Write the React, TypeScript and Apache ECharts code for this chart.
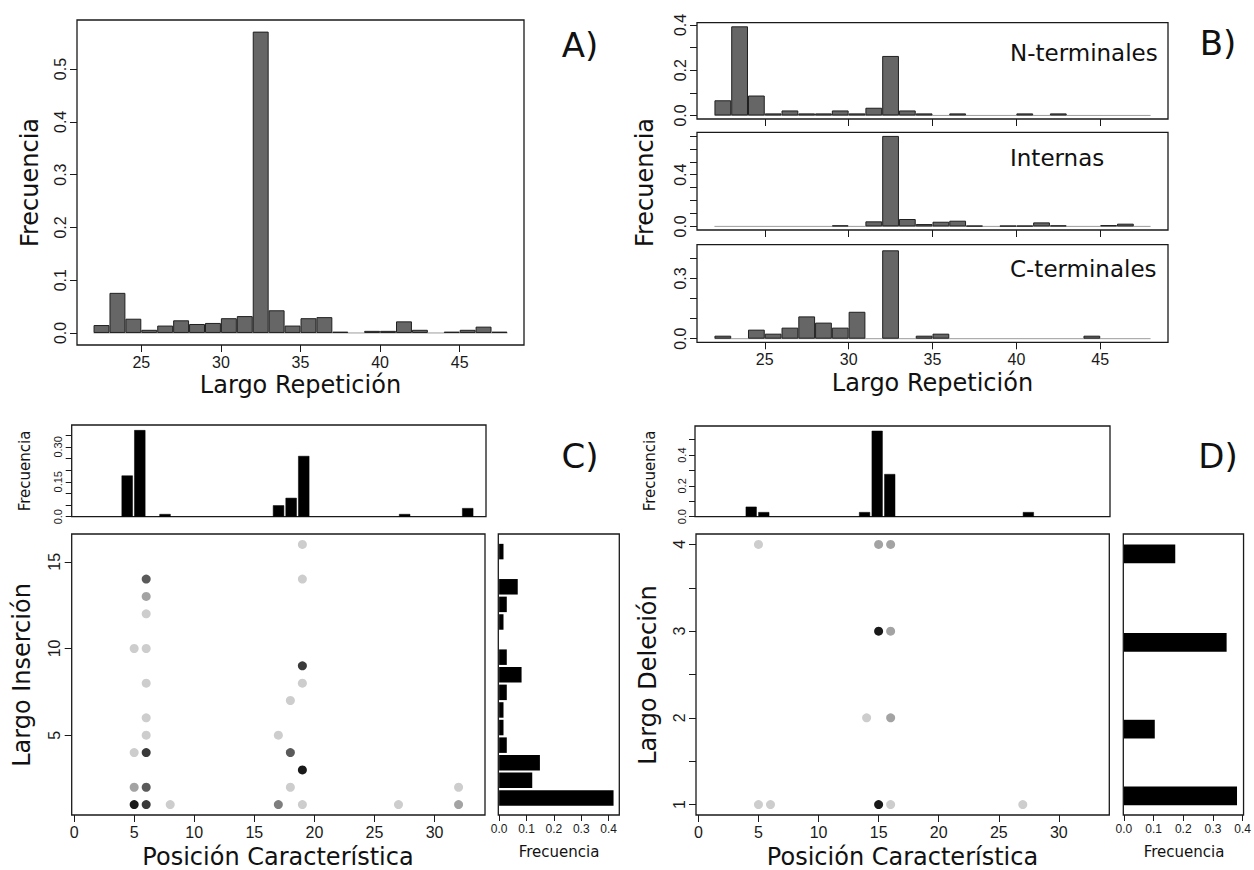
import React, { useEffect, useRef } from 'react';
import * as echarts from 'echarts';

// ---------------- DATA ----------------
// Panel A / B: histogram of repeat length (bin edges 22..48, width 1)
const repBinEdges = [22, 23, 24, 25, 26, 27, 28, 29, 30, 31, 32, 33, 34, 35, 36, 37, 38, 39, 40, 41, 42, 43, 44, 45, 46, 47, 48];
const freqAll = [0.015, 0.076, 0.027, 0.006, 0.014, 0.024, 0.017, 0.019, 0.028, 0.032, 0.571, 0.043, 0.014, 0.028, 0.030, 0.0025, 0, 0.004, 0.004, 0.022, 0.006, 0, 0.0025, 0.006, 0.012, 0.0025];
const freqNterm = [0.067, 0.394, 0.088, 0.009, 0.022, 0.009, 0.009, 0.022, 0.009, 0.034, 0.263, 0.022, 0.009, 0, 0.009, 0, 0, 0, 0.009, 0, 0.009, 0, 0, 0, 0, 0];
const freqIntern = [0, 0, 0, 0, 0, 0, 0, 0.008, 0, 0.039, 0.70, 0.057, 0.018, 0.036, 0.044, 0.005, 0, 0.005, 0.005, 0.031, 0.008, 0, 0, 0.01, 0.021, 0];
const freqCterm = [0.015, 0, 0.045, 0.025, 0.055, 0.111, 0.080, 0.055, 0.134, 0, 0.44, 0, 0.015, 0.025, 0, 0, 0, 0, 0, 0, 0, 0, 0.015, 0, 0, 0];

const repTicks = [25, 30, 35, 40, 45];
const ticksA = [0, 0.1, 0.2, 0.3, 0.4, 0.5];
const ticksN = [0, 0.1, 0.2, 0.3, 0.4];
const labelsN = [0, 0.2, 0.4];
const ticksInt = [0, 0.1, 0.2, 0.3, 0.4, 0.5, 0.6, 0.7];
const labelsInt = [0, 0.4];
const ticksC = [0, 0.1, 0.2, 0.3, 0.4];
const labelsC = [0, 0.3];

// Panel C: insertions
const insPos = [5, 6, 8, 17, 18, 19, 27, 32];
const insPosFreq = [0.177, 0.372, 0.0115, 0.049, 0.081, 0.261, 0.0115, 0.037];
const insLenBars = [1, 2, 3, 4, 5, 6, 7, 8, 9, 10, 11, 12, 13, 14, 15];
const insLenFreq = [0.418, 0.121, 0.149, 0.028, 0.016, 0.016, 0.028, 0.082, 0.028, 0, 0.016, 0.028, 0.068, 0, 0.016];
const insX = [19, 6, 19, 6, 6, 5, 6, 19, 6, 19, 18, 6, 6, 17, 5, 6, 18, 19, 5, 6, 18, 32, 5, 6, 8, 17, 19, 27, 32];
const insY = [16, 14, 14, 13, 12, 10, 10, 9, 8, 8, 7, 6, 5, 5, 4, 4, 4, 3, 2, 2, 2, 2, 1, 1, 1, 1, 1, 1, 1];
const insShade = [1, 4, 1, 2, 1, 1, 1, 5, 1, 1, 1, 1, 1, 1, 1, 5, 4, 6, 2, 4, 1, 1, 6, 5, 1, 3, 1, 1, 2];
const insTopTicks = [0, 0.05, 0.1, 0.15, 0.2, 0.25, 0.3, 0.35];
const insTopLabelVals = [0, 0.15, 0.3];
const insTopLabelTxt = ['0.0', '0.15', '0.30'];

// Panel D: deletions
const delPos = [5, 6, 14, 15, 16, 27];
const delPosFreq = [0.065, 0.03, 0.03, 0.558, 0.277, 0.03];
const delLenBarPos = [1.1, 1.87, 2.87, 3.89];
const delLenFreq = [0.381, 0.104, 0.346, 0.173];
const delX = [5, 15, 16, 15, 16, 14, 16, 5, 6, 15, 16, 27];
const delY = [4, 4, 4, 3, 3, 2, 2, 1, 1, 1, 1, 1];
const delShade = [1, 2, 2, 6, 2, 1, 2, 1, 1, 6, 1, 1];
const delTopTicks = [0, 0.1, 0.2, 0.3, 0.4, 0.5];
const delTopLabels = [0, 0.2, 0.4];

const posTicks = [0, 5, 10, 15, 20, 25, 30];
const insLenTicks = [5, 10, 15];
const delLenTicks = [1, 1.5, 2, 2.5, 3, 3.5, 4];
const delLenLabels = [1, 2, 3, 4];
const histFreqTicks = [0, 0.1, 0.2, 0.3, 0.4];

const shadeColors = ['#cdcdcd', '#a3a3a3', '#7e7e7e', '#5a5a5a', '#3a3a3a', '#191919'];

// ---------------- STYLE ----------------
const INK = '#1a1a1a';
const FONT_T = 'DejaVu Sans';
const FONT_L = 'Liberation Sans';

type AxOpt = {
  ticks?: number[];
  labels?: number[];
  fmt?: (v: number) => string;
  fontSize?: number;
  margin?: number;
  rotate?: number;
  tickLen?: number;
};

function vAxis(gridIndex: number, min: number, max: number, o: AxOpt = {}) {
  const ticks = o.ticks || [];
  const labels = o.labels || [];
  const ax: any = {
    type: 'value',
    gridIndex,
    min,
    max,
    axisLine: { show: false, onZero: false },
    splitLine: { show: false },
    axisTick: { show: false },
    axisLabel: { show: false },
  };
  if (ticks.length) {
    ax.axisTick = { show: true, length: o.tickLen ?? 7, customValues: ticks, lineStyle: { color: INK, width: 1 } };
  }
  if (labels.length) {
    ax.axisLabel = {
      show: true,
      customValues: labels,
      formatter: o.fmt || ((v: number) => String(v)),
      fontSize: o.fontSize ?? 16,
      fontFamily: FONT_L,
      color: INK,
      margin: o.margin ?? 9,
      rotate: o.rotate ?? 0,
    };
  }
  return ax;
}

const gridBox = { show: true, borderColor: INK, borderWidth: 1.3, backgroundColor: 'transparent', containLabel: false };

const grids = [
  { left: 77, top: 20, width: 447, height: 325 }, // 0 A
  { left: 697, top: 22.7, width: 471, height: 96.3 }, // 1 B N
  { left: 697, top: 132.3, width: 471, height: 97.7 }, // 2 B Int
  { left: 697, top: 244.7, width: 471, height: 97.6 }, // 3 B C
  { left: 71.7, top: 425, width: 414.3, height: 91.7 }, // 4 C top
  { left: 71.7, top: 534, width: 413.3, height: 281 }, // 5 C scatter
  { left: 498.3, top: 534, width: 121, height: 281 }, // 6 C right
  { left: 695, top: 426, width: 415, height: 90.7 }, // 7 D top
  { left: 696, top: 534, width: 413.3, height: 281 }, // 8 D scatter
  { left: 1123.3, top: 534, width: 121.7, height: 281 }, // 9 D right
].map((g) => ({ ...gridBox, ...g }));

const repMin = 20.96;
const repMax = 49.04;
const f1 = (v: number) => v.toFixed(1);

function histSeries(gi: number, freqs: number[]) {
  const pxPerUnit = grids[gi].width / (repMax - repMin);
  const data = freqs
    .map((f, i) => [(repBinEdges[i] + repBinEdges[i + 1]) / 2, f])
    .filter((d) => d[1] > 0);
  return [
    {
      type: 'line',
      xAxisIndex: gi,
      yAxisIndex: gi,
      data: [
        [repBinEdges[0], 0],
        [repBinEdges[repBinEdges.length - 1], 0],
      ],
      symbol: 'none',
      silent: true,
      lineStyle: { color: '#9c9c9c', width: 1 },
      z: 1,
    },
    {
      type: 'bar',
      xAxisIndex: gi,
      yAxisIndex: gi,
      data,
      barWidth: pxPerUnit,
      itemStyle: { color: '#666666', borderColor: '#202020', borderWidth: 1 },
      z: 2,
    },
  ];
}

function topBars(gi: number, pos: number[], freqs: number[], w: number) {
  return {
    type: 'bar',
    xAxisIndex: gi,
    yAxisIndex: gi,
    data: pos.map((p, i) => [p, freqs[i]]),
    barWidth: w,
    itemStyle: { color: '#000', borderColor: '#000', borderWidth: 0.5 },
  };
}

function sideBars(gi: number, pos: number[], freqs: number[], h: number) {
  return {
    type: 'custom',
    xAxisIndex: gi,
    yAxisIndex: gi,
    data: pos.map((p, i) => [freqs[i], p]).filter((d) => d[0] > 0),
    renderItem: (_params: any, api: any) => {
      const v = api.value(0);
      const y = api.value(1);
      const a = api.coord([0, y]);
      const b = api.coord([v, y]);
      return {
        type: 'rect',
        shape: { x: a[0], y: a[1] - h / 2, width: b[0] - a[0], height: h },
        style: { fill: '#000' },
      };
    },
  };
}

function scatter(gi: number, xs: number[], ys: number[], shades: number[]) {
  return {
    type: 'scatter',
    xAxisIndex: gi,
    yAxisIndex: gi,
    symbol: 'circle',
    symbolSize: 9,
    data: xs.map((x, i) => ({ value: [x, ys[i]], itemStyle: { color: shadeColors[shades[i] - 1], opacity: 1 } })),
    z: 3,
  };
}

function txt(x: number, y: number, text: string, size: number, o: any = {}) {
  const align = o.align || 'center';
  return {
    type: 'text',
    x,
    y,
    rotation: o.rot ? Math.PI / 2 : 0,
    silent: true,
    style: {
      text,
      fontSize: size,
      fontFamily: o.font || FONT_T,
      fill: '#111',
      align,
      textAlign: align,
      verticalAlign: 'middle',
      textVerticalAlign: 'middle',
    },
  };
}

const topLabelFmt = (v: number) => {
  const i = insTopLabelVals.findIndex((t) => Math.abs(t - v) < 1e-9);
  return i >= 0 ? insTopLabelTxt[i] : '';
};

export default function App() {
  const ref = useRef<HTMLDivElement>(null);
  useEffect(() => {
    if (!ref.current) return;
    const chart = echarts.init(ref.current, undefined, { renderer: 'svg' });
    const xAxis = [
      vAxis(0, repMin, repMax, { ticks: repTicks, labels: repTicks }),
      vAxis(1, repMin, repMax, { ticks: repTicks }),
      vAxis(2, repMin, repMax, { ticks: repTicks }),
      vAxis(3, repMin, repMax, { ticks: repTicks, labels: repTicks }),
      vAxis(4, 0.6, 33.45),
      vAxis(5, -0.2, 34.2, { ticks: posTicks, labels: posTicks }),
      vAxis(6, -0.003, 0.439, { ticks: histFreqTicks, labels: histFreqTicks, fmt: f1, fontSize: 12, margin: 8, tickLen: 6 }),
      vAxis(7, 0.54, 33.48),
      vAxis(8, -0.2, 34.2, { ticks: posTicks, labels: posTicks }),
      vAxis(9, -0.002, 0.403, { ticks: histFreqTicks, labels: histFreqTicks, fmt: f1, fontSize: 12, margin: 8, tickLen: 6 }),
    ];
    const yAxis = [
      vAxis(0, -0.0228, 0.593, { ticks: ticksA, labels: ticksA, fmt: f1, rotate: 90 }),
      vAxis(1, -0.0158, 0.41, { ticks: ticksN, labels: labelsN, fmt: f1, rotate: 90 }),
      vAxis(2, -0.028, 0.728, { ticks: ticksInt, labels: labelsInt, fmt: f1, rotate: 90 }),
      vAxis(3, -0.018, 0.468, { ticks: ticksC, labels: labelsC, fmt: f1, rotate: 90 }),
      vAxis(4, 0, 0.394, { ticks: insTopTicks, labels: insTopLabelVals, fmt: topLabelFmt, rotate: 90, fontSize: 11, margin: 8, tickLen: 6 }),
      vAxis(5, 0.4, 16.6, { ticks: insLenTicks, labels: insLenTicks, rotate: 90 }),
      vAxis(6, 0.03, 16.0),
      vAxis(7, 0, 0.589, { ticks: delTopTicks, labels: delTopLabels, fmt: f1, rotate: 90, fontSize: 11, margin: 8, tickLen: 6 }),
      vAxis(8, 0.88, 4.12, { ticks: delLenTicks, labels: delLenLabels, rotate: 90 }),
      vAxis(9, 0.88, 4.12),
    ];
    const series: any[] = [
      ...histSeries(0, freqAll),
      ...histSeries(1, freqNterm),
      ...histSeries(2, freqIntern),
      ...histSeries(3, freqCterm),
      topBars(4, insPos, insPosFreq, 11.2),
      scatter(5, insX, insY, insShade),
      sideBars(6, insLenBars, insLenFreq, 15.5),
      topBars(7, delPos, delPosFreq, 11),
      scatter(8, delX, delY, delShade),
      sideBars(9, delLenBarPos, delLenFreq, 18.7),
    ];
    const graphic = [
      txt(30, 182.5, 'Frecuencia', 24, { rot: true }),
      txt(300.5, 385, 'Largo Repetición', 24),
      txt(580, 45, 'A)', 34),
      txt(645, 182.5, 'Frecuencia', 24, { rot: true }),
      txt(932.5, 383, 'Largo Repetición', 24),
      txt(1218, 43, 'B)', 34),
      txt(1010, 52.7, 'N-terminales', 23, { align: 'left' }),
      txt(1010, 158.3, 'Internas', 23, { align: 'left' }),
      txt(1010, 269.3, 'C-terminales', 23, { align: 'left' }),
      txt(580, 456, 'C)', 34),
      txt(1218, 456, 'D)', 34),
      txt(25, 471, 'Frecuencia', 15, { rot: true }),
      txt(650, 471, 'Frecuencia', 15, { rot: true }),
      txt(22, 675, 'Largo Inserción', 24, { rot: true }),
      txt(648, 675, 'Largo Deleción', 24, { rot: true }),
      txt(278, 857, 'Posición Característica', 24),
      txt(902.5, 857, 'Posición Característica', 24),
      txt(559, 852, 'Frecuencia', 15),
      txt(1184, 852, 'Frecuencia', 15),
    ];
    chart.setOption({
      animation: false,
      backgroundColor: '#ffffff',
      grid: grids,
      xAxis,
      yAxis,
      series,
      graphic,
    });
    return () => chart.dispose();
  }, []);
  return <div ref={ref} style={{ position: 'absolute', left: 0, top: 0, width: 1254, height: 870 }} />;
}
